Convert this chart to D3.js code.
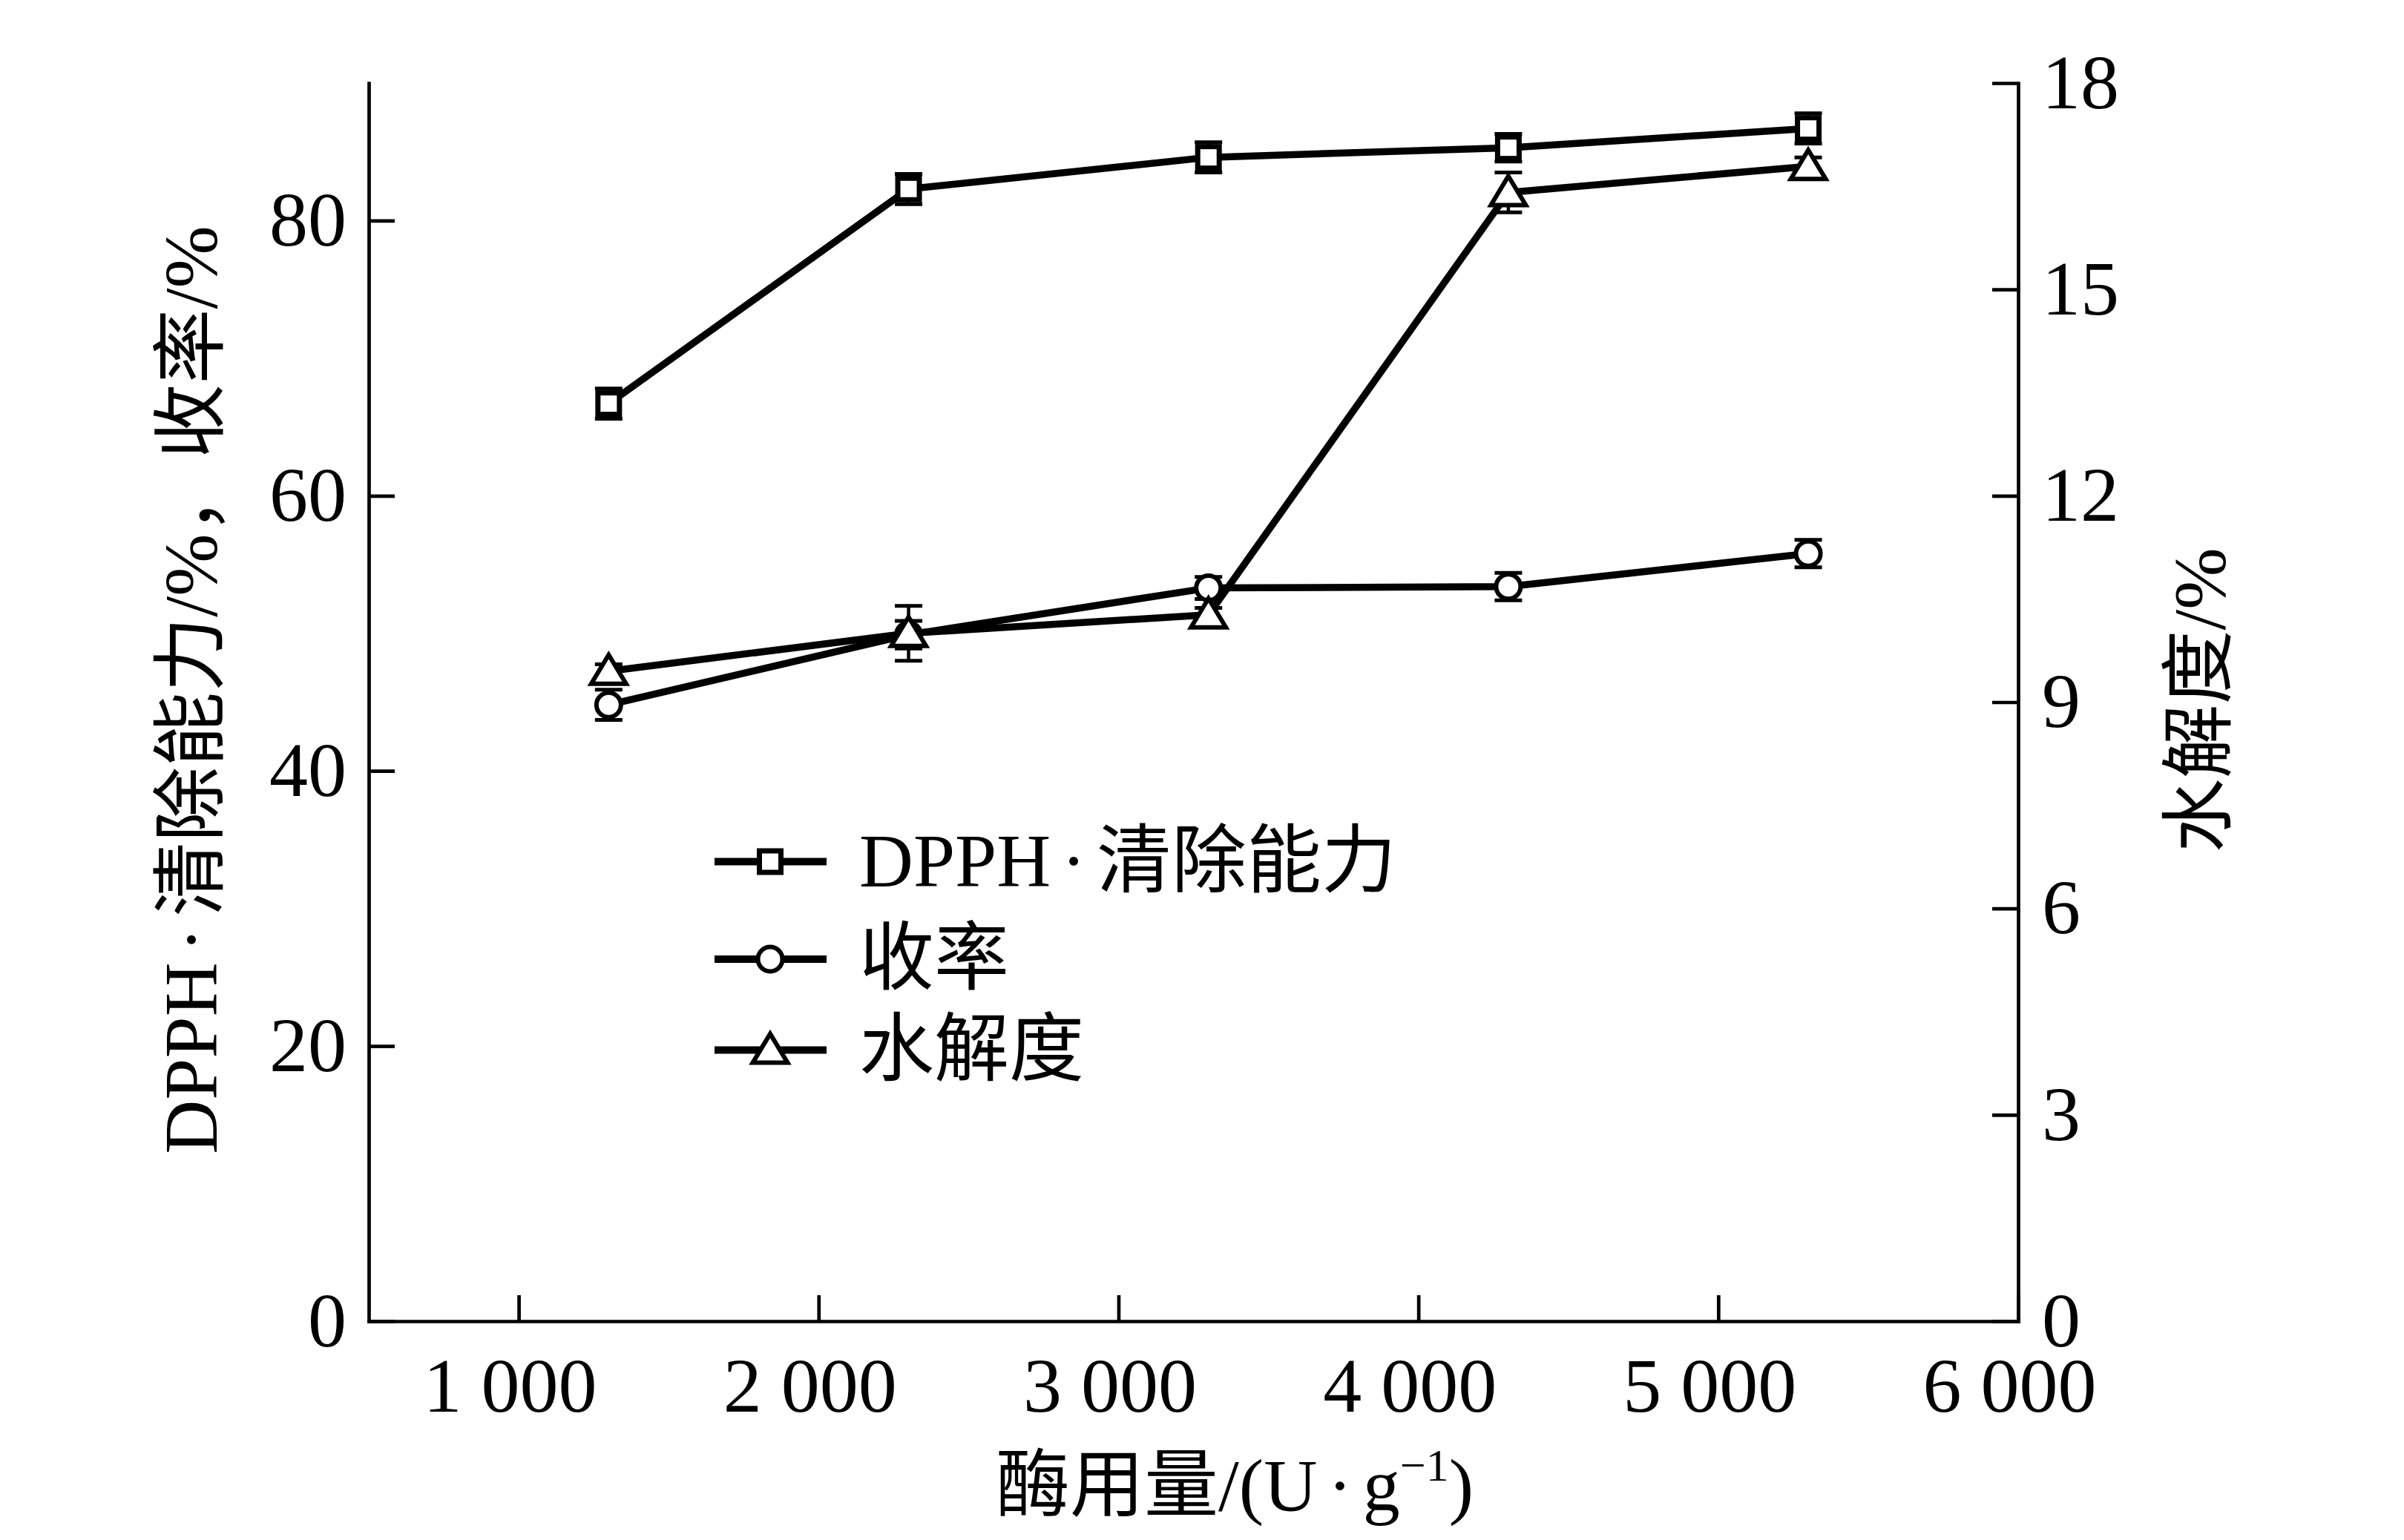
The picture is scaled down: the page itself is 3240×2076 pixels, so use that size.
<!DOCTYPE html>
<html><head><meta charset="utf-8">
<script src="https://cdn.jsdelivr.net/npm/d3@7"></script>
<style>
html,body{margin:0;padding:0;background:#fff;}
svg{display:block;}
text{font-family:"Liberation Serif","Noto Sans CJK SC",serif;fill:#000;}
</style>
</head><body>
<svg id="chart" width="3240" height="2076"></svg>
<script>
// ---- data ----
const dosage = [1300, 2300, 3300, 4300, 5300];
const dpph = [66.7, 82.3, 84.6, 85.3, 86.7];
const dpphErr = [1.1, 1.1, 1.1, 1.0, 1.1];
const yieldRate = [44.8, 49.9, 53.3, 53.4, 55.8];
const yieldErr = [1.1, 1.0, 0.8, 1.0, 1.0];
const hydrolysis = [9.45, 10.0, 10.27, 16.41, 16.79];
const hydroErr = [0.1, 0.4, 0.1, 0.29, 0.13];
const xTicks = [1000, 2000, 3000, 4000, 5000, 6000];
const xTickLabels = ["1 000", "2 000", "3 000", "4 000", "5 000", "6 000"];
const yLeftTicks = [0, 20, 40, 60, 80];
const yRightTicks = [0, 3, 6, 9, 12, 15, 18];
const seriesNames = ["DPPH·清除能力", "收率", "水解度"];
const xTitle = "酶用量/(U·g";
const yLeftTitle = "DPPH·清除能力/%，收率/%";
const yRightTitle = "水解度/%";

// ---- layout ----
const svg = d3.select("#chart");
const L = 497, R = 2720, B = 1781, T = 112;
const x = d3.scaleLinear([500, 6000], [L, R]);
const yL = d3.scaleLinear([0, 90], [B, T]);
const yR = d3.scaleLinear([0, 18], [B, T]);

const AXW = 4.7, LW = 9.5;

// writes a string into a text element, giving the middle dot some room
function fillText(sel, str) {
  str.split("·").forEach((part, i) => {
    if (i > 0) sel.append("tspan").attr("dx", 14).text("·");
    sel.append("tspan").attr("dx", i > 0 ? 14 : null).text(part);
  });
  return sel;
}

// axes
const gx = svg.append("g").attr("transform", `translate(0,${B})`)
  .call(d3.axisBottom(x).tickValues(xTicks).tickSizeInner(-35).tickSizeOuter(0)
    .tickFormat((d, i) => xTickLabels[i]));
gx.selectAll("text").attr("dy", null).attr("y", 122).attr("dx", -12);

const gl = svg.append("g").attr("transform", `translate(${L},0)`)
  .call(d3.axisLeft(yL).tickValues(yLeftTicks).tickSizeInner(-35).tickSizeOuter(0).tickPadding(30));
const gr = svg.append("g").attr("transform", `translate(${R},0)`)
  .call(d3.axisRight(yR).tickValues(yRightTicks).tickSizeInner(-35).tickSizeOuter(0).tickPadding(32));

[gx, gl, gr].forEach(g => {
  g.attr("font-family", null).attr("font-size", null);
  g.selectAll("text").style("font-size", "104px");
  g.select(".domain").attr("stroke", "#000").attr("stroke-width", AXW).attr("stroke-linecap", "square");
  g.selectAll(".tick line").attr("stroke", "#000").attr("stroke-width", AXW);
});

// titles
const xt = svg.append("text").attr("x", 1664).attr("y", 2036).attr("text-anchor", "middle")
  .style("font-size", "100px");
fillText(xt, xTitle);
xt.append("tspan").text("−1").style("font-size", "62px").attr("dy", -40);
xt.append("tspan").text(")").attr("dy", 40);

fillText(svg.append("text").attr("transform", "translate(292,930) rotate(-90)")
  .attr("text-anchor", "middle").style("font-size", "101px"), yLeftTitle);
svg.append("text").attr("transform", "translate(2998,944) rotate(-90)")
  .attr("text-anchor", "middle").style("font-size", "100px").text(yRightTitle);

// series
const series = [
  {vals: dpph, err: dpphErr, y: yL, shape: "square"},
  {vals: yieldRate, err: yieldErr, y: yL, shape: "circle"},
  {vals: hydrolysis, err: hydroErr, y: yR, shape: "triangle"}
];

const gLines = svg.append("g"), gErr = svg.append("g"), gMarks = svg.append("g");

function drawMarker(g, shape, cx, cy) {
  if (shape === "square") {
    g.append("rect").attr("x", cx - 14.5).attr("y", cy - 14.5).attr("width", 29).attr("height", 29)
      .attr("fill", "#fff").attr("stroke", "#000").attr("stroke-width", 7);
  } else if (shape === "circle") {
    g.append("circle").attr("cx", cx).attr("cy", cy).attr("r", 16.5)
      .attr("fill", "#fff").attr("stroke", "#000").attr("stroke-width", 6);
  } else {
    const p = d3.path();
    p.moveTo(cx, cy - 22); p.lineTo(cx + 23.5, cy + 17); p.lineTo(cx - 23.5, cy + 17); p.closePath();
    g.append("path").attr("d", p.toString())
      .attr("fill", "#fff").attr("stroke", "#000").attr("stroke-width", 6).attr("stroke-linejoin", "miter");
  }
}

series.forEach(s => {
  const line = d3.line().x((d, i) => x(dosage[i])).y(d => s.y(d));
  gLines.append("path").attr("d", line(s.vals)).attr("fill", "none")
    .attr("stroke", "#000").attr("stroke-width", LW).attr("stroke-linejoin", "round");
  s.vals.forEach((v, i) => {
    const cx = x(dosage[i]);
    const y1 = s.y(v - s.err[i]), y2 = s.y(v + s.err[i]);
    gErr.append("line").attr("x1", cx).attr("x2", cx).attr("y1", y1).attr("y2", y2)
      .attr("stroke", "#000").attr("stroke-width", 4.5);
    [y1, y2].forEach(yy => gErr.append("line").attr("x1", cx - 18.5).attr("x2", cx + 18.5)
      .attr("y1", yy).attr("y2", yy).attr("stroke", "#000").attr("stroke-width", 5));
  });
});
series.forEach(s => s.vals.forEach((v, i) => drawMarker(gMarks, s.shape, x(dosage[i]), s.y(v))));

// legend
const legRows = [1161.5, 1293, 1415.6];
const gLeg = svg.append("g");
series.forEach((s, i) => {
  const yy = legRows[i];
  gLeg.append("line").attr("x1", 963).attr("x2", 1114).attr("y1", yy).attr("y2", yy)
    .attr("stroke", "#000").attr("stroke-width", 10);
  drawMarker(gLeg, s.shape, 1038, yy);
  fillText(gLeg.append("text").attr("x", 1158).attr("y", yy + 33).style("font-size", "101px"), seriesNames[i]);
});
</script>
</body></html>
